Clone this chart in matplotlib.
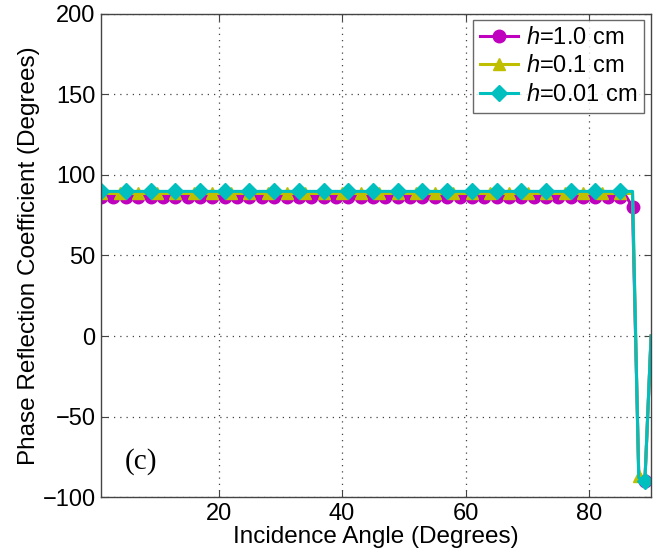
import numpy as np
import matplotlib
matplotlib.use('Agg')
import matplotlib.pyplot as plt

plt.rcParams['font.family'] = ['Liberation Sans', 'DejaVu Sans']
plt.rcParams['mathtext.fontset'] = 'custom'
plt.rcParams['mathtext.it'] = 'Liberation Sans:italic'
plt.rcParams['mathtext.rm'] = 'Liberation Sans'

# incidence angle in degrees, 1..90
angle = np.arange(1, 91)

# phase values (flat part then the drop near grazing)
phase_h10 = [86.5] * 86 + [80, -85, -90, 0]
phase_h01 = [88.5] * 87 + [-87, -90, 0]
phase_h001 = [89.8] * 87 + [-88, -90, 0]

labels = ['$h$=1.0 cm', '$h$=0.1 cm', '$h$=0.01 cm']
colors = ['#bf00bf', '#bfbf00', '#00bfbf']
markers = ['o', '^', 'D']
marker_step = [2, 3, 4]

fig = plt.figure(figsize=(6.61, 5.56), dpi=100)
ax = fig.add_axes([0.153, 0.106, 0.832, 0.869])

series = [phase_h10, phase_h01, phase_h001]
for vals, lab, c, m, step in zip(series, labels, colors, markers, marker_step):
    ms = {'o': 9, '^': 9, 'D': 8.5}[m]
    ax.plot(angle, vals, color=c, marker=m, markevery=step, lw=2.2,
            ms=ms, mfc=c, mec=c, label=lab)

ax.set_xlim(1, 90)
ax.set_ylim(-100, 200)
ax.set_xticks([20, 40, 60, 80])
ax.set_yticks([-100, -50, 0, 50, 100, 150, 200])
ax.grid(True, linestyle=(0, (1, 4)), color='#444444', lw=0.9)
ax.tick_params(direction='in', top=True, right=True, labelsize=17, length=5,
               color='#444444', pad=4)
for sp in ax.spines.values():
    sp.set_color('#444444')
    sp.set_linewidth(1.0)

ax.set_xlabel('Incidence Angle (Degrees)', fontsize=17.5, labelpad=1)
ax.set_ylabel('Phase Reflection Coefficient (Degrees)', fontsize=17.5, labelpad=2)

ax.text(4.9, -78, '(c)', fontsize=21, family='Liberation Serif', va='center')

leg = ax.legend(loc='upper right', bbox_to_anchor=(0.988, 0.988), fontsize=17,
                fancybox=False, edgecolor='#444444', handlelength=1.6,
                borderpad=0.3, labelspacing=0.28, handletextpad=0.35,
                borderaxespad=0)
leg.get_frame().set_linewidth(1.0)

fig.savefig('out.png', dpi=100)
